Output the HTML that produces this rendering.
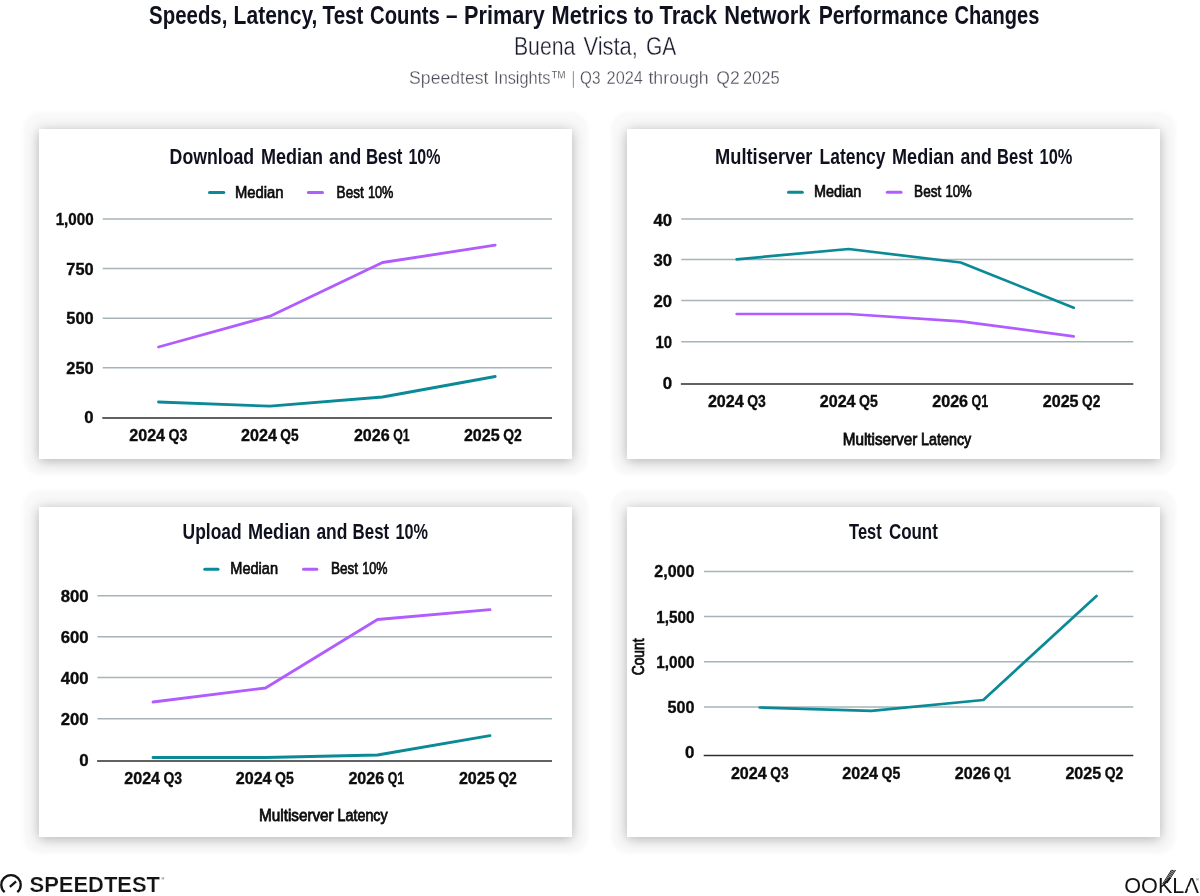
<!DOCTYPE html>
<html lang="en">
<head>
<meta charset="utf-8">
<title>Speeds, Latency, Test Counts – Buena Vista, GA</title>
<style>
html,body{margin:0;padding:0;background:#fff;}
body{width:1200px;height:896px;position:relative;overflow:hidden;font-family:'Liberation Sans', sans-serif;}
.card{position:absolute;background:#fff;box-shadow:0 1.5px 12px rgba(0,0,0,.29);}
.halo{position:absolute;background:#f9f9f9;border-radius:17px;filter:blur(1.5px);}
#c1{left:39px;top:129px;width:533px;height:329.6px;}
#c2{left:627px;top:129px;width:533px;height:329.6px;}
#c3{left:39px;top:506.5px;width:533px;height:330.6px;}
#c4{left:627px;top:506.5px;width:533px;height:330.6px;}
svg{position:absolute;left:0;top:0;}
svg text{font-family:'Liberation Sans', sans-serif;}
</style>
</head>
<body>
<div class="halo" style="left:23px;top:111.7px;width:565px;height:363.3px"></div>
<div class="halo" style="left:611px;top:111.7px;width:565px;height:363.3px"></div>
<div class="halo" style="left:23px;top:489.7px;width:565px;height:364.3px"></div>
<div class="halo" style="left:611px;top:489.7px;width:565px;height:364.3px"></div>
<div class="card" id="c1"></div>
<div class="card" id="c2"></div>
<div class="card" id="c3"></div>
<div class="card" id="c4"></div>
<svg width="1200" height="896" viewBox="0 0 1200 896">
<g id="header">
<text y="24.3" font-size="26.4" font-weight="bold" fill="#10111f"><tspan x="149.1" textLength="78.3" lengthAdjust="spacingAndGlyphs">Speeds,</tspan> <tspan x="233.6" textLength="83.8" lengthAdjust="spacingAndGlyphs">Latency,</tspan> <tspan x="322.6" textLength="40.8" lengthAdjust="spacingAndGlyphs">Test</tspan> <tspan x="370.1" textLength="69.8" lengthAdjust="spacingAndGlyphs">Counts</tspan> <tspan x="445.9" textLength="11.5" lengthAdjust="spacingAndGlyphs">–</tspan> <tspan x="464.1" textLength="80.6" lengthAdjust="spacingAndGlyphs">Primary</tspan> <tspan x="551.6" textLength="76.3" lengthAdjust="spacingAndGlyphs">Metrics</tspan> <tspan x="634.1" textLength="19.6" lengthAdjust="spacingAndGlyphs">to</tspan> <tspan x="659.6" textLength="57.3" lengthAdjust="spacingAndGlyphs">Track</tspan> <tspan x="724.2" textLength="86.3" lengthAdjust="spacingAndGlyphs">Network</tspan> <tspan x="818.7" textLength="129.2" lengthAdjust="spacingAndGlyphs">Performance</tspan> <tspan x="954.6" textLength="84.8" lengthAdjust="spacingAndGlyphs">Changes</tspan></text>
<text y="55" font-size="26" font-weight="normal" fill="#1b1c2e" stroke="#fff" stroke-width="0.35" paint-order="fill stroke"><tspan x="513.9" textLength="61.5" lengthAdjust="spacingAndGlyphs">Buena</tspan> <tspan x="583.4" textLength="54.5" lengthAdjust="spacingAndGlyphs">Vista,</tspan> <tspan x="645.9" textLength="30.3" lengthAdjust="spacingAndGlyphs">GA</tspan></text>
<text y="83.7" font-size="19" font-weight="normal" fill="#4b4d58" stroke="#fff" stroke-width="0.3" paint-order="fill stroke"><tspan x="409.1" textLength="79.3" lengthAdjust="spacingAndGlyphs">Speedtest</tspan> <tspan x="494.1" textLength="72.6" lengthAdjust="spacingAndGlyphs">Insights™</tspan> <tspan x="572.1" textLength="2.6" lengthAdjust="spacingAndGlyphs">|</tspan> <tspan x="580.1" textLength="20.3" lengthAdjust="spacingAndGlyphs">Q3</tspan> <tspan x="606.6" textLength="36.3" lengthAdjust="spacingAndGlyphs">2024</tspan> <tspan x="648.4" textLength="60.3" lengthAdjust="spacingAndGlyphs">through</tspan> <tspan x="716.3" textLength="23.4" lengthAdjust="spacingAndGlyphs">Q2</tspan> <tspan x="742.9" textLength="36.8" lengthAdjust="spacingAndGlyphs">2025</tspan></text>
</g>
<g id="chart-download">
<text y="164.2" font-size="21.8" font-weight="bold" fill="#10111f"><tspan x="169.6" textLength="84.6" lengthAdjust="spacingAndGlyphs">Download</tspan> <tspan x="260.9" textLength="62.0" lengthAdjust="spacingAndGlyphs">Median</tspan> <tspan x="329.1" textLength="32.1" lengthAdjust="spacingAndGlyphs">and</tspan> <tspan x="365.9" textLength="36.5" lengthAdjust="spacingAndGlyphs">Best</tspan> <tspan x="408.4" textLength="32.0" lengthAdjust="spacingAndGlyphs">10%</tspan></text>
<line x1="209.5" y1="192.5" x2="223.8" y2="192.5" stroke="#0a8a96" stroke-width="3" stroke-linecap="round"/>
<text x="235.0" y="197.5" font-size="16" font-weight="normal" fill="#0c0c0c" textLength="48.5" lengthAdjust="spacingAndGlyphs" stroke="#0c0c0c" stroke-width="0.7">Median</text>
<line x1="308.4" y1="192.5" x2="322.5" y2="192.5" stroke="#b05cff" stroke-width="3" stroke-linecap="round"/>
<text y="197.5" font-size="16" font-weight="normal" fill="#0c0c0c" stroke="#0c0c0c" stroke-width="0.7"><tspan x="336.6" textLength="27.1" lengthAdjust="spacingAndGlyphs">Best</tspan> <tspan x="367.9" textLength="25.5" lengthAdjust="spacingAndGlyphs">10%</tspan></text>
<line x1="102.7" y1="219" x2="552" y2="219" stroke="#a6b4b9" stroke-width="1.5" stroke-linecap="butt"/>
<line x1="102.7" y1="268.6" x2="552" y2="268.6" stroke="#a6b4b9" stroke-width="1.5" stroke-linecap="butt"/>
<line x1="102.7" y1="318.2" x2="552" y2="318.2" stroke="#a6b4b9" stroke-width="1.5" stroke-linecap="butt"/>
<line x1="102.7" y1="367.8" x2="552" y2="367.8" stroke="#a6b4b9" stroke-width="1.5" stroke-linecap="butt"/>
<line x1="102.3" y1="418" x2="552" y2="418" stroke="#2e2c2d" stroke-width="1.5" stroke-linecap="butt"/>
<text x="55.7" y="225.1" font-size="16.6" font-weight="bold" fill="#0c0c0c" textLength="37.9" lengthAdjust="spacingAndGlyphs" stroke="#0c0c0c" stroke-width="0.35">1,000</text>
<text x="66.3" y="274.7" font-size="16.6" font-weight="bold" fill="#0c0c0c" textLength="27.3" lengthAdjust="spacingAndGlyphs" stroke="#0c0c0c" stroke-width="0.35">750</text>
<text x="66.3" y="324.3" font-size="16.6" font-weight="bold" fill="#0c0c0c" textLength="27.3" lengthAdjust="spacingAndGlyphs" stroke="#0c0c0c" stroke-width="0.35">500</text>
<text x="66.3" y="373.9" font-size="16.6" font-weight="bold" fill="#0c0c0c" textLength="27.3" lengthAdjust="spacingAndGlyphs" stroke="#0c0c0c" stroke-width="0.35">250</text>
<text x="84.3" y="423.0" font-size="16.6" font-weight="bold" fill="#0c0c0c" textLength="9.3" lengthAdjust="spacingAndGlyphs" stroke="#0c0c0c" stroke-width="0.35">0</text>
<text y="441.2" font-size="16.8" font-weight="bold" fill="#0c0c0c" stroke="#0c0c0c" stroke-width="0.35"><tspan x="129.2" textLength="35.9" lengthAdjust="spacingAndGlyphs">2024</tspan> <tspan x="168.5" textLength="18.8" lengthAdjust="spacingAndGlyphs">Q3</tspan></text>
<text y="441.2" font-size="16.8" font-weight="bold" fill="#0c0c0c" stroke="#0c0c0c" stroke-width="0.35"><tspan x="241.0" textLength="35.9" lengthAdjust="spacingAndGlyphs">2024</tspan> <tspan x="280.3" textLength="18.3" lengthAdjust="spacingAndGlyphs">Q5</tspan></text>
<text y="441.2" font-size="16.8" font-weight="bold" fill="#0c0c0c" stroke="#0c0c0c" stroke-width="0.35"><tspan x="353.9" textLength="35.9" lengthAdjust="spacingAndGlyphs">2026</tspan> <tspan x="393.2" textLength="16.4" lengthAdjust="spacingAndGlyphs">Q1</tspan></text>
<text y="441.2" font-size="16.8" font-weight="bold" fill="#0c0c0c" stroke="#0c0c0c" stroke-width="0.35"><tspan x="463.9" textLength="35.9" lengthAdjust="spacingAndGlyphs">2025</tspan> <tspan x="503.2" textLength="18.6" lengthAdjust="spacingAndGlyphs">Q2</tspan></text>
<polyline points="158.5,347 270,316.2 382.5,262.5 495.2,245.2" fill="none" stroke="#b05cff" stroke-width="2.8" stroke-linecap="round" stroke-linejoin="round"/>
<polyline points="158.5,402 270,406.2 382.5,397 495.2,376.5" fill="none" stroke="#0a8a96" stroke-width="2.8" stroke-linecap="round" stroke-linejoin="round"/>
</g>
<g id="chart-latency">
<text y="164.2" font-size="21.8" font-weight="bold" fill="#10111f"><tspan x="715.1" textLength="97.3" lengthAdjust="spacingAndGlyphs">Multiserver</tspan> <tspan x="819.6" textLength="65.8" lengthAdjust="spacingAndGlyphs">Latency</tspan> <tspan x="892.1" textLength="62.1" lengthAdjust="spacingAndGlyphs">Median</tspan> <tspan x="960.4" textLength="31.3" lengthAdjust="spacingAndGlyphs">and</tspan> <tspan x="997.1" textLength="35.8" lengthAdjust="spacingAndGlyphs">Best</tspan> <tspan x="1039.6" textLength="32.8" lengthAdjust="spacingAndGlyphs">10%</tspan></text>
<line x1="788.5" y1="192.3" x2="802.3" y2="192.3" stroke="#0a8a96" stroke-width="3" stroke-linecap="round"/>
<text x="814.0" y="197.3" font-size="16" font-weight="normal" fill="#0c0c0c" textLength="47.3" lengthAdjust="spacingAndGlyphs" stroke="#0c0c0c" stroke-width="0.7">Median</text>
<line x1="887.3" y1="192.3" x2="901.0" y2="192.3" stroke="#b05cff" stroke-width="3" stroke-linecap="round"/>
<text y="197.3" font-size="16" font-weight="normal" fill="#0c0c0c" stroke="#0c0c0c" stroke-width="0.7"><tspan x="914.1" textLength="27.1" lengthAdjust="spacingAndGlyphs">Best</tspan> <tspan x="945.4" textLength="26.3" lengthAdjust="spacingAndGlyphs">10%</tspan></text>
<line x1="681.3" y1="219" x2="1133.3" y2="219" stroke="#a6b4b9" stroke-width="1.5" stroke-linecap="butt"/>
<line x1="681.3" y1="259.5" x2="1133.3" y2="259.5" stroke="#a6b4b9" stroke-width="1.5" stroke-linecap="butt"/>
<line x1="681.3" y1="300.5" x2="1133.3" y2="300.5" stroke="#a6b4b9" stroke-width="1.5" stroke-linecap="butt"/>
<line x1="681.3" y1="341.7" x2="1133.3" y2="341.7" stroke="#a6b4b9" stroke-width="1.5" stroke-linecap="butt"/>
<line x1="680.9" y1="384" x2="1133.3" y2="384" stroke="#2e2c2d" stroke-width="1.5" stroke-linecap="butt"/>
<text x="653.5" y="225.5" font-size="16.6" font-weight="bold" fill="#0c0c0c" textLength="18.6" lengthAdjust="spacingAndGlyphs" stroke="#0c0c0c" stroke-width="0.35">40</text>
<text x="653.5" y="266.0" font-size="16.6" font-weight="bold" fill="#0c0c0c" textLength="18.6" lengthAdjust="spacingAndGlyphs" stroke="#0c0c0c" stroke-width="0.35">30</text>
<text x="653.5" y="307.0" font-size="16.6" font-weight="bold" fill="#0c0c0c" textLength="18.6" lengthAdjust="spacingAndGlyphs" stroke="#0c0c0c" stroke-width="0.35">20</text>
<text x="655.5" y="348.2" font-size="16.6" font-weight="bold" fill="#0c0c0c" textLength="16.6" lengthAdjust="spacingAndGlyphs" stroke="#0c0c0c" stroke-width="0.35">10</text>
<text x="662.7" y="389.1" font-size="16.6" font-weight="bold" fill="#0c0c0c" textLength="9.4" lengthAdjust="spacingAndGlyphs" stroke="#0c0c0c" stroke-width="0.35">0</text>
<text y="406.8" font-size="16.8" font-weight="bold" fill="#0c0c0c" stroke="#0c0c0c" stroke-width="0.35"><tspan x="707.9" textLength="35.9" lengthAdjust="spacingAndGlyphs">2024</tspan> <tspan x="747.2" textLength="18.6" lengthAdjust="spacingAndGlyphs">Q3</tspan></text>
<text y="406.8" font-size="16.8" font-weight="bold" fill="#0c0c0c" stroke="#0c0c0c" stroke-width="0.35"><tspan x="819.7" textLength="35.9" lengthAdjust="spacingAndGlyphs">2024</tspan> <tspan x="859.0" textLength="18.8" lengthAdjust="spacingAndGlyphs">Q5</tspan></text>
<text y="406.8" font-size="16.8" font-weight="bold" fill="#0c0c0c" stroke="#0c0c0c" stroke-width="0.35"><tspan x="932.2" textLength="35.9" lengthAdjust="spacingAndGlyphs">2026</tspan> <tspan x="971.5" textLength="16.8" lengthAdjust="spacingAndGlyphs">Q1</tspan></text>
<text y="406.8" font-size="16.8" font-weight="bold" fill="#0c0c0c" stroke="#0c0c0c" stroke-width="0.35"><tspan x="1042.7" textLength="35.9" lengthAdjust="spacingAndGlyphs">2025</tspan> <tspan x="1082.0" textLength="18.3" lengthAdjust="spacingAndGlyphs">Q2</tspan></text>
<text y="444.5" font-size="16.4" font-weight="normal" fill="#0c0c0c" stroke="#0c0c0c" stroke-width="0.8"><tspan x="842.7" textLength="74.6" lengthAdjust="spacingAndGlyphs">Multiserver</tspan> <tspan x="921.1" textLength="50.1" lengthAdjust="spacingAndGlyphs">Latency</tspan></text>
<polyline points="736.7,314 848.7,314 960.7,321.3 1073.7,336.3" fill="none" stroke="#b05cff" stroke-width="2.7" stroke-linecap="round" stroke-linejoin="round"/>
<polyline points="736.7,259.3 848.7,249 960.7,262.5 1073.7,307.7" fill="none" stroke="#0a8a96" stroke-width="2.7" stroke-linecap="round" stroke-linejoin="round"/>
</g>
<g id="chart-upload">
<text y="538.7" font-size="21.8" font-weight="bold" fill="#10111f"><tspan x="182.6" textLength="59.1" lengthAdjust="spacingAndGlyphs">Upload</tspan> <tspan x="247.9" textLength="62.5" lengthAdjust="spacingAndGlyphs">Median</tspan> <tspan x="316.4" textLength="31.0" lengthAdjust="spacingAndGlyphs">and</tspan> <tspan x="352.6" textLength="36.6" lengthAdjust="spacingAndGlyphs">Best</tspan> <tspan x="395.4" textLength="32.5" lengthAdjust="spacingAndGlyphs">10%</tspan></text>
<line x1="204.8" y1="569.3" x2="218.0" y2="569.3" stroke="#0a8a96" stroke-width="3" stroke-linecap="round"/>
<text x="230.3" y="574.3" font-size="16" font-weight="normal" fill="#0c0c0c" textLength="47.7" lengthAdjust="spacingAndGlyphs" stroke="#0c0c0c" stroke-width="0.7">Median</text>
<line x1="303.5" y1="569.3" x2="316.8" y2="569.3" stroke="#b05cff" stroke-width="3" stroke-linecap="round"/>
<text y="574.3" font-size="16" font-weight="normal" fill="#0c0c0c" stroke="#0c0c0c" stroke-width="0.7"><tspan x="330.9" textLength="27.1" lengthAdjust="spacingAndGlyphs">Best</tspan> <tspan x="362.2" textLength="25.2" lengthAdjust="spacingAndGlyphs">10%</tspan></text>
<line x1="97.5" y1="595.7" x2="552" y2="595.7" stroke="#a6b4b9" stroke-width="1.5" stroke-linecap="butt"/>
<line x1="97.5" y1="636.7" x2="552" y2="636.7" stroke="#a6b4b9" stroke-width="1.5" stroke-linecap="butt"/>
<line x1="97.5" y1="677.5" x2="552" y2="677.5" stroke="#a6b4b9" stroke-width="1.5" stroke-linecap="butt"/>
<line x1="97.5" y1="718.7" x2="552" y2="718.7" stroke="#a6b4b9" stroke-width="1.5" stroke-linecap="butt"/>
<line x1="97.1" y1="761" x2="552" y2="761" stroke="#2e2c2d" stroke-width="1.5" stroke-linecap="butt"/>
<text x="60.7" y="601.8" font-size="16.6" font-weight="bold" fill="#0c0c0c" textLength="27.9" lengthAdjust="spacingAndGlyphs" stroke="#0c0c0c" stroke-width="0.35">800</text>
<text x="60.7" y="642.8" font-size="16.6" font-weight="bold" fill="#0c0c0c" textLength="27.9" lengthAdjust="spacingAndGlyphs" stroke="#0c0c0c" stroke-width="0.35">600</text>
<text x="60.7" y="683.6" font-size="16.6" font-weight="bold" fill="#0c0c0c" textLength="27.9" lengthAdjust="spacingAndGlyphs" stroke="#0c0c0c" stroke-width="0.35">400</text>
<text x="60.7" y="724.8" font-size="16.6" font-weight="bold" fill="#0c0c0c" textLength="27.9" lengthAdjust="spacingAndGlyphs" stroke="#0c0c0c" stroke-width="0.35">200</text>
<text x="79.2" y="765.7" font-size="16.6" font-weight="bold" fill="#0c0c0c" textLength="9.4" lengthAdjust="spacingAndGlyphs" stroke="#0c0c0c" stroke-width="0.35">0</text>
<text y="783.8" font-size="16.8" font-weight="bold" fill="#0c0c0c" stroke="#0c0c0c" stroke-width="0.35"><tspan x="124.2" textLength="35.9" lengthAdjust="spacingAndGlyphs">2024</tspan> <tspan x="163.5" textLength="18.6" lengthAdjust="spacingAndGlyphs">Q3</tspan></text>
<text y="783.8" font-size="16.8" font-weight="bold" fill="#0c0c0c" stroke="#0c0c0c" stroke-width="0.35"><tspan x="235.7" textLength="35.9" lengthAdjust="spacingAndGlyphs">2024</tspan> <tspan x="275.0" textLength="18.8" lengthAdjust="spacingAndGlyphs">Q5</tspan></text>
<text y="783.8" font-size="16.8" font-weight="bold" fill="#0c0c0c" stroke="#0c0c0c" stroke-width="0.35"><tspan x="348.4" textLength="35.9" lengthAdjust="spacingAndGlyphs">2026</tspan> <tspan x="387.7" textLength="16.4" lengthAdjust="spacingAndGlyphs">Q1</tspan></text>
<text y="783.8" font-size="16.8" font-weight="bold" fill="#0c0c0c" stroke="#0c0c0c" stroke-width="0.35"><tspan x="458.9" textLength="35.9" lengthAdjust="spacingAndGlyphs">2025</tspan> <tspan x="498.2" textLength="18.6" lengthAdjust="spacingAndGlyphs">Q2</tspan></text>
<text y="821.3" font-size="16.4" font-weight="normal" fill="#0c0c0c" stroke="#0c0c0c" stroke-width="0.8"><tspan x="259.1" textLength="74.6" lengthAdjust="spacingAndGlyphs">Multiserver</tspan> <tspan x="337.5" textLength="50.2" lengthAdjust="spacingAndGlyphs">Latency</tspan></text>
<polyline points="153,702 265.5,688 377.5,619.5 490,609.7" fill="none" stroke="#b05cff" stroke-width="2.8" stroke-linecap="round" stroke-linejoin="round"/>
<polyline points="153,757.5 265.5,757.5 377.5,755 490,735.7" fill="none" stroke="#0a8a96" stroke-width="2.8" stroke-linecap="round" stroke-linejoin="round"/>
</g>
<g id="chart-test-count">
<text y="538.9" font-size="21.8" font-weight="bold" fill="#10111f"><tspan x="849.1" textLength="32.6" lengthAdjust="spacingAndGlyphs">Test</tspan> <tspan x="888.9" textLength="49.0" lengthAdjust="spacingAndGlyphs">Count</tspan></text>
<line x1="704" y1="571.5" x2="1133.3" y2="571.5" stroke="#a6b4b9" stroke-width="1.5" stroke-linecap="butt"/>
<line x1="704" y1="616.6" x2="1133.3" y2="616.6" stroke="#a6b4b9" stroke-width="1.5" stroke-linecap="butt"/>
<line x1="704" y1="661.7" x2="1133.3" y2="661.7" stroke="#a6b4b9" stroke-width="1.5" stroke-linecap="butt"/>
<line x1="704" y1="706.9" x2="1133.3" y2="706.9" stroke="#a6b4b9" stroke-width="1.5" stroke-linecap="butt"/>
<line x1="703.7" y1="755.4" x2="1133.3" y2="755.4" stroke="#2e2c2d" stroke-width="1.5" stroke-linecap="butt"/>
<text x="654.3" y="577.3" font-size="16.6" font-weight="bold" fill="#0c0c0c" textLength="40.1" lengthAdjust="spacingAndGlyphs" stroke="#0c0c0c" stroke-width="0.35">2,000</text>
<text x="656.2" y="622.6" font-size="16.6" font-weight="bold" fill="#0c0c0c" textLength="38.2" lengthAdjust="spacingAndGlyphs" stroke="#0c0c0c" stroke-width="0.35">1,500</text>
<text x="656.2" y="667.7" font-size="16.6" font-weight="bold" fill="#0c0c0c" textLength="38.2" lengthAdjust="spacingAndGlyphs" stroke="#0c0c0c" stroke-width="0.35">1,000</text>
<text x="667.5" y="712.9" font-size="16.6" font-weight="bold" fill="#0c0c0c" textLength="26.9" lengthAdjust="spacingAndGlyphs" stroke="#0c0c0c" stroke-width="0.35">500</text>
<text x="685" y="758.0" font-size="16.6" font-weight="bold" fill="#0c0c0c" textLength="9.4" lengthAdjust="spacingAndGlyphs" stroke="#0c0c0c" stroke-width="0.35">0</text>
<text y="778.8" font-size="16.8" font-weight="bold" fill="#0c0c0c" stroke="#0c0c0c" stroke-width="0.35"><tspan x="730.9" textLength="35.9" lengthAdjust="spacingAndGlyphs">2024</tspan> <tspan x="770.2" textLength="18.4" lengthAdjust="spacingAndGlyphs">Q3</tspan></text>
<text y="778.8" font-size="16.8" font-weight="bold" fill="#0c0c0c" stroke="#0c0c0c" stroke-width="0.35"><tspan x="842.2" textLength="35.9" lengthAdjust="spacingAndGlyphs">2024</tspan> <tspan x="881.5" textLength="18.8" lengthAdjust="spacingAndGlyphs">Q5</tspan></text>
<text y="778.8" font-size="16.8" font-weight="bold" fill="#0c0c0c" stroke="#0c0c0c" stroke-width="0.35"><tspan x="954.7" textLength="35.9" lengthAdjust="spacingAndGlyphs">2026</tspan> <tspan x="994.0" textLength="16.8" lengthAdjust="spacingAndGlyphs">Q1</tspan></text>
<text y="778.8" font-size="16.8" font-weight="bold" fill="#0c0c0c" stroke="#0c0c0c" stroke-width="0.35"><tspan x="1065.4" textLength="35.9" lengthAdjust="spacingAndGlyphs">2025</tspan> <tspan x="1104.7" textLength="18.6" lengthAdjust="spacingAndGlyphs">Q2</tspan></text>
<text transform="translate(643.8 675.3) rotate(-90)" font-size="16.3" fill="#0c0c0c" textLength="36.8" lengthAdjust="spacingAndGlyphs" stroke="#0c0c0c" stroke-width="0.8">Count</text>
<polyline points="759.7,707.5 871.3,710.8 983.3,700 1096.5,596" fill="none" stroke="#0a8a96" stroke-width="2.7" stroke-linecap="round" stroke-linejoin="round"/>
</g>
<g id="footer-logos">
<path d="M4.7 892.2 A9.7 9.7 0 1 1 17.3 892.2" fill="none" stroke="#141414" stroke-width="2.3" stroke-linecap="butt"/>
<line x1="9.9" y1="886.8" x2="16.1" y2="881.3" stroke="#141414" stroke-width="2.3" stroke-linecap="butt"/>
<text x="29.5" y="891.8" font-size="21.6" font-weight="bold" fill="#141414" textLength="130.5" lengthAdjust="spacingAndGlyphs" stroke="#fff" stroke-width="0.22" paint-order="fill stroke">SPEEDTEST</text>
<text x="161.3" y="880" font-size="4" font-weight="normal" fill="#141414">®</text>
<text x="1124.3" y="892.7" font-size="22.5" font-weight="normal" fill="#141414" textLength="74.5" lengthAdjust="spacingAndGlyphs">OOKLA</text>
<polygon points="1188.35,886.7 1194.45,886.7 1195.0,889.3 1187.65,889.3" fill="#fff"/>
<text x="1196" y="880.5" font-size="4" font-weight="normal" fill="#141414">®</text>
<line x1="1162.6" y1="884.0" x2="1171.6" y2="869.8" stroke="#141414" stroke-width="0.95" stroke-linecap="butt"/>
<line x1="1164.1" y1="883.7" x2="1172.9" y2="869.9" stroke="#141414" stroke-width="0.95" stroke-linecap="butt"/>
<line x1="1165.6" y1="883.4" x2="1174.3" y2="870.0" stroke="#141414" stroke-width="0.95" stroke-linecap="butt"/>
<line x1="1167.1" y1="883.1" x2="1175.6" y2="870.1" stroke="#141414" stroke-width="0.95" stroke-linecap="butt"/>
</g>
</svg>
</body>
</html>
